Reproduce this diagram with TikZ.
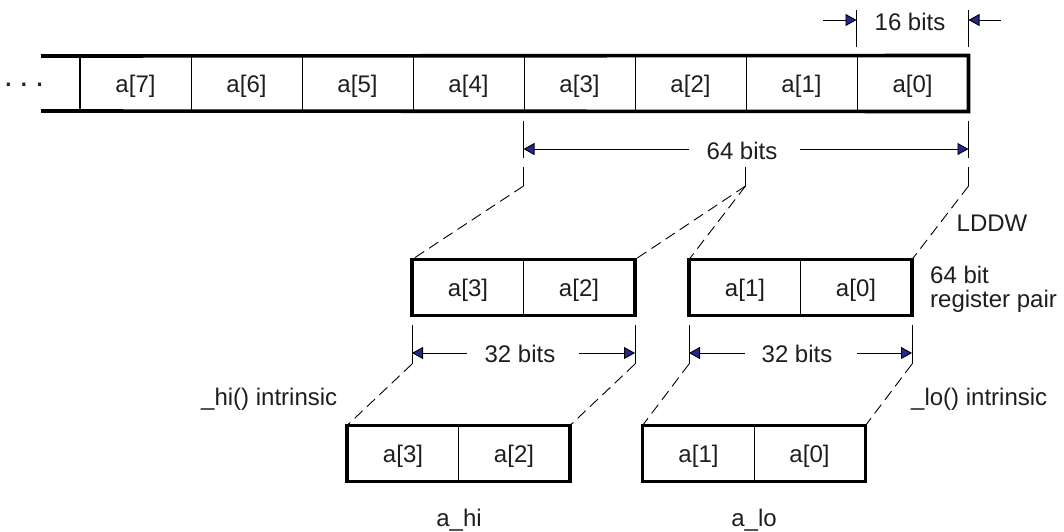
\documentclass[tikz,border=0pt]{standalone}
\usepackage{fontspec}
\setmainfont{Liberation Sans}
\usetikzlibrary{arrows.meta}
\definecolor{tipblue}{RGB}{36,40,140}
\definecolor{ink}{RGB}{30,30,30}
\begin{document}
\begin{tikzpicture}[x=1pt,y=-1pt,
  txt/.style={font=\fontsize{24}{28}\selectfont, inner sep=0pt, text=ink},
  cell/.style={txt, draw, line width=1pt, minimum width=111pt, minimum height=55pt, text height=17pt, text depth=0pt},
  outline/.style={line width=3.6pt, line join=miter},
  thinline/.style={line width=0.9pt},
  dimarrow/.style={thinline, -{Triangle[length=11pt,width=12pt,fill=tipblue]}},
  leader/.style={line width=0.9pt, dash pattern=on 11pt off 6pt}]
\useasboundingbox (0,0) rectangle (1064,531);

% ---- top array ----
\foreach \i/\x in {0/912.5,1/801.5,2/690.5,3/579.5,4/468.5,5/357.5,6/246.5,7/135.5}
  \node[cell] (t\i) at (\x,83.5) {a[\i]};
\coordinate (barTL) at (41,56);
\coordinate (barBL) at (41,111);
\draw[line width=1pt] (t7.north west) -- (t7.south west);
\draw[outline] (barTL) -- (t0.north east) -- (t0.south east) -- (barBL);
\node[txt, font=\fontsize{32}{34}\selectfont, anchor=base] (dots) at (24,93) {·\hspace{5pt}·\hspace{5pt}·};

% ---- register pair ----
\node[cell] (r3) at (468,287.5) {a[3]};
\node[cell] (r2) at (579,287.5) {a[2]};
\node[cell] (r1) at (745,287.5) {a[1]};
\node[cell] (r0) at (856,287.5) {a[0]};
\draw[outline] (r3.north west) rectangle (r2.south east);
\draw[outline] (r1.north west) rectangle (r0.south east);

% ---- a_hi / a_lo ----
\node[cell] (h3) at (403,453.5) {a[3]};
\node[cell] (h2) at (514,453.5) {a[2]};
\node[cell] (l1) at (698.5,453.5) {a[1]};
\node[cell] (l0) at (809.5,453.5) {a[0]};
\draw[outline] (h3.north west) rectangle (h2.south east);
\draw[outline] (l1.north west) rectangle (l0.south east);

% ---- 16 bits ----
\draw[thinline] (t0.north west |- 0,10) -- (t0.north west |- 0,47);
\draw[thinline] (t0.north east |- 0,10) -- (t0.north east |- 0,47);
\coordinate (a16l) at (823,20);
\coordinate (a16r) at (1001,20);
\draw[dimarrow] (a16l) -- (t0.north west |- a16l);
\draw[dimarrow] (a16r) -- (t0.north east |- a16r);
\node[txt, anchor=base] (lab16) at (910,30.5) {16 bits};

% ---- 64 bits ----
\draw[thinline] (t3.south west |- 0,121) -- (t3.south west |- 0,158);
\draw[thinline] (t0.south east |- 0,121) -- (t0.south east |- 0,158);
\coordinate (L64) at (t3.south west |- 0,186);
\coordinate (M64) at (t1.south west |- 0,186);
\coordinate (R64) at (t0.south east |- 0,186);
\draw[thinline] (t3.south west |- 0,167) -- (L64);
\draw[thinline] (t1.south west |- 0,167) -- (M64);
\draw[thinline] (t0.south east |- 0,167) -- (R64);
\coordinate (a64l) at (689,149);
\coordinate (a64r) at (800,149);
\draw[dimarrow] (a64l) -- (t3.south west |- a64l);
\draw[dimarrow] (a64r) -- (t0.south east |- a64r);
\node[txt, anchor=base] (lab64) at (742,159) {64 bits};

\draw[leader] (L64) -- (r3.north west);
\draw[leader] (M64) -- (r2.north east);
\draw[leader] (M64) -- (r1.north west);
\draw[leader] (R64) -- (r0.north east);

% ---- 32 bits ----
\coordinate (p3) at (r3.south west |- 0,364);
\coordinate (p2) at (r2.south east |- 0,364);
\coordinate (p1) at (r1.south west |- 0,364);
\coordinate (p0) at (r0.south east |- 0,364);
\draw[thinline] (r3.south west |- 0,325) -- (p3);
\draw[thinline] (r2.south east |- 0,325) -- (p2);
\draw[thinline] (r1.south west |- 0,325) -- (p1);
\draw[thinline] (r0.south east |- 0,325) -- (p0);
\coordinate (a32a) at (467,353);
\coordinate (a32b) at (579,353);
\coordinate (a32c) at (745,353);
\coordinate (a32d) at (857,353);
\draw[dimarrow] (a32a) -- (r3.south west |- a32a);
\draw[dimarrow] (a32b) -- (r2.south east |- a32b);
\draw[dimarrow] (a32c) -- (r1.south west |- a32c);
\draw[dimarrow] (a32d) -- (r0.south east |- a32d);
\node[txt, anchor=base] (lab32h) at (520,362.5) {32 bits};
\node[txt, anchor=base] (lab32l) at (797,362.5) {32 bits};

\draw[leader] (p3) -- (h3.north west);
\draw[leader] (p2) -- (h2.north east);
\draw[leader] (p1) -- (l1.north west);
\draw[leader] (p0) -- (l0.north east);

% ---- labels ----
\node[txt] (lddw) at (992,223) {LDDW};
\node[txt, font=\fontsize{24}{24}\selectfont, align=left, anchor=north west] (labrp) at (930,265.5) {64 bit\\register pair};
\node[txt, anchor=base west] (labhi) at (201,405.5) {\_hi() intrinsic};
\node[txt, anchor=base west] (lablo) at (911,405.5) {\_lo() intrinsic};
\node[txt, anchor=base] (nhi) at (459,526.5) {a\_hi};
\node[txt, anchor=base] (nlo) at (754,526.5) {a\_lo};
\end{tikzpicture}
\end{document}
